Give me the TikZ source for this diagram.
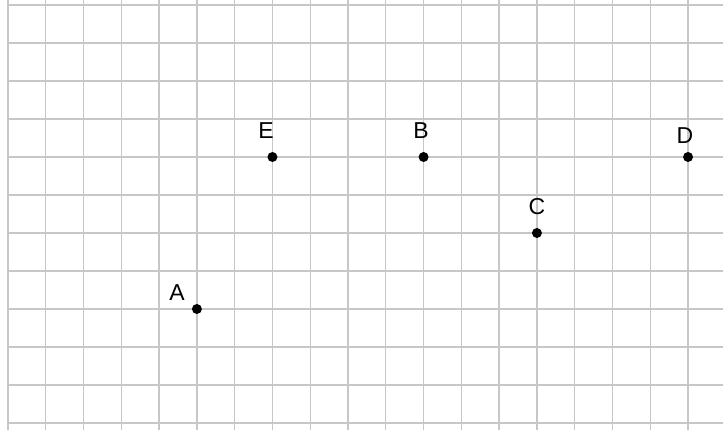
\documentclass[tikz,border=0pt]{standalone}
\usepackage{fontspec}
\setmainfont{Liberation Sans}
\begin{document}
\begin{tikzpicture}[x=1pt,y=-1pt,
  gridline/.style={draw=black!22, line width=1.3pt},
  pt/.style={circle, fill=black, inner sep=0pt, minimum size=10pt},
  lbl/.style={font=\fontsize{23}{26}\selectfont, inner sep=0pt}]
\useasboundingbox[fill=white] (0,0) rectangle (723,430);
\foreach \i in {0,...,18} {
  \draw[gridline] ({8+37.78*\i},0) -- ({8+37.78*\i},430);
}
\foreach \j in {0,...,11} {
  \draw[gridline] (8,{5+38*\j}) -- (723,{5+38*\j});
}
\node[pt] (E) at ({8+37.78*7},{5+38*4}) {};
\node[pt] (B) at ({8+37.78*11},{5+38*4}) {};
\node[pt] (C) at ({8+37.78*14},{5+38*6}) {};
\node[pt] (D) at ({8+37.78*18},{5+38*4}) {};
\node[pt] (A) at ({8+37.78*5},{5+38*8}) {};
\node[lbl] (lE) at (266,131) {E};
\node[lbl] (lB) at (421,131) {B};
\node[lbl] (lC) at (537,207) {C};
\node[lbl] (lD) at (685,136) {D};
\node[lbl] (lA) at (177,293) {A};
\end{tikzpicture}
\end{document}
